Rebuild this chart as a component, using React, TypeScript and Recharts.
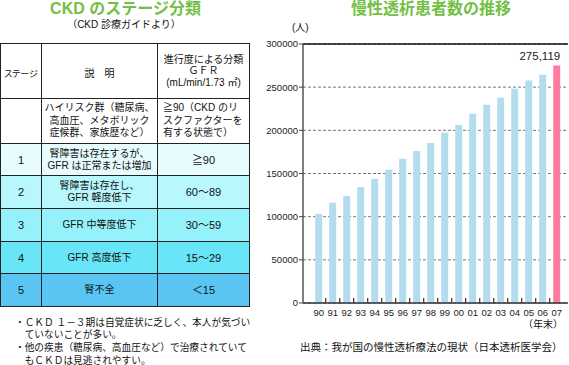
import React from "react";
import {
  BarChart,
  Bar,
  XAxis,
  YAxis,
  CartesianGrid,
  ReferenceLine,
  LabelList,
  Cell,
} from "recharts";

const FONT = '"Liberation Sans", "Noto Sans CJK JP", sans-serif';
const GREEN = "#72BF44";

// dialysis patients, year end
const years = ["90", "91", "92", "93", "94", "95", "96", "97", "98", "99", "00", "01", "02", "03", "04", "05", "06", "07"];
const patients = [
  103296, 116303, 123926, 134298, 143709, 154413, 167192, 175988, 185322,
  197213, 206134, 219183, 229538, 237710, 248166, 257765, 264473, 275119,
];
const yTicks = [0, 50000, 100000, 150000, 200000, 250000, 300000];

// CKD stage table
const stages = ["", "1", "2", "3", "4", "5"];
const stageDescriptions = [
  ["ハイリスク群（糖尿病、", "高血圧、メタボリック", "症候群、家族歴など）"],
  ["腎障害は存在するが、", "GFR は正常または増加"],
  ["腎障害は存在し、", "GFR 軽度低下"],
  ["GFR 中等度低下"],
  ["GFR 高度低下"],
  ["腎不全"],
];
const gfrRanges = [
  ["≧90（CKD のリ", "スクファクターを", "有する状態で）"],
  ["≧90"],
  ["60～89"],
  ["30～59"],
  ["15～29"],
  ["＜15"],
];
const notes = [
  ["・ＣＫＤ １－３期は自覚症状に乏しく、本人が気づい", "ていないことが多い。"],
  ["・他の疾患（糖尿病、高血圧など）で治療されていて", "もＣＫＤは見逃されやすい。"],
];

const rowColors = ["#FFFFFF", "#E6FCFE", "#B8F7FC", "#95F1FA", "#68E5F6", "#5AC5F3"];
const rowHeights = [45, 32, 33, 33, 32, 33];

const chartData = years.map((year, i) => ({ year, patients: patients[i] }));

const cell: React.CSSProperties = {
  border: "1px solid #222",
  padding: 0,
  fontSize: 10,
  lineHeight: "12px",
  color: "#111",
  verticalAlign: "middle",
};

function Lines({ lines }: { lines: string[] }) {
  return (
    <>
      {lines.map((l, i) => (
        <div key={i} style={{ whiteSpace: "nowrap" }}>
          {l}
        </div>
      ))}
    </>
  );
}

function StageTable() {
  return (
    <table
      style={{
        position: "absolute",
        left: 0,
        top: 43,
        width: 249,
        borderCollapse: "collapse",
        tableLayout: "fixed",
        fontFamily: FONT,
      }}
    >
      <colgroup>
        <col style={{ width: 41 }} />
        <col style={{ width: 116 }} />
        <col style={{ width: 92 }} />
      </colgroup>
      <tbody>
        <tr style={{ height: 55 }}>
          <td style={{ ...cell, textAlign: "center", fontSize: 9, fontFeatureSettings: '"palt"', paddingTop: 5 }}>
            ステージ
          </td>
          <td style={{ ...cell, textAlign: "center", paddingTop: 5 }}>説　明</td>
          <td style={{ ...cell, textAlign: "center", lineHeight: "11.5px" }}>
            <Lines lines={["進行度による分類", "ＧＦＲ", "(mL/min/1.73 ㎡)"]} />
          </td>
        </tr>
        {stages.map((s, i) => (
          <tr key={i} style={{ height: rowHeights[i], background: rowColors[i] }}>
            <td style={{ ...cell, textAlign: "center", fontSize: 11 }}>{s}</td>
            <td style={{ ...cell, textAlign: "center", lineHeight: i === 0 ? "12.5px" : "12px" }}>
              <Lines lines={stageDescriptions[i]} />
            </td>
            <td
              style={{
                ...cell,
                textAlign: i === 0 ? "left" : "center",
                paddingLeft: i === 0 ? 5 : 0,
                fontSize: i === 0 ? 10 : 11,
                lineHeight: i === 0 ? "12.5px" : "12px",
              }}
            >
              <Lines lines={gfrRanges[i]} />
            </td>
          </tr>
        ))}
      </tbody>
    </table>
  );
}

function YearTick(props: any) {
  const { x, y, payload, index } = props;
  const half = payload.offset ?? 0;
  const isLast = index === years.length - 1;
  return (
    <g>
      {!isLast && (
        <line x1={x + half} x2={x + half} y1={y} y2={y - 5} stroke="#333" strokeWidth={1.2} />
      )}
      <text x={x} y={y + 6} dy="0.71em" textAnchor="middle" fontSize={9.5} fill="#222" fontFamily={FONT}>
        {payload.value}
      </text>
    </g>
  );
}

function LatestLabel(props: any) {
  const { x, y, width, value, index } = props;
  if (index !== patients.length - 1) return null;
  return (
    <text
      x={Number(x) + Number(width)}
      y={Number(y) - 5}
      textAnchor="end"
      fontSize={11.5}
      fill="#222"
      fontFamily={FONT}
    >
      {Number(value).toLocaleString("en-US")}
    </text>
  );
}

export default function App() {
  return (
    <div
      style={{
        position: "absolute",
        left: 0,
        top: 0,
        width: 569,
        height: 365,
        background: "#fff",
        fontFamily: FONT,
        overflow: "hidden",
      }}
    >
      {/* left panel */}
      <div
        style={{
          position: "absolute",
          left: 0,
          width: 251,
          top: 0,
          textAlign: "center",
          color: GREEN,
          fontSize: 16,
          fontWeight: "bold",
          lineHeight: "18px",
        }}
      >
        CKD のステージ分類
      </div>
      <div
        style={{
          position: "absolute",
          left: 0,
          width: 248,
          top: 19,
          textAlign: "center",
          fontSize: 10,
          lineHeight: "11px",
          color: "#111",
        }}
      >
        （CKD 診療ガイドより）
      </div>
      <StageTable />
      <div
        style={{
          position: "absolute",
          left: 15,
          top: 316.5,
          fontSize: 9.7,
          lineHeight: "12.7px",
          color: "#111",
        }}
      >
        {notes.map((n, i) => (
          <React.Fragment key={i}>
            <div style={{ whiteSpace: "nowrap" }}>{n[0]}</div>
            <div style={{ whiteSpace: "nowrap", paddingLeft: "1em" }}>{n[1]}</div>
          </React.Fragment>
        ))}
      </div>

      {/* right panel */}
      <div
        style={{
          position: "absolute",
          left: 331,
          width: 200,
          top: 0,
          textAlign: "center",
          color: GREEN,
          fontSize: 16,
          fontWeight: "bold",
          lineHeight: "18px",
        }}
      >
        慢性透析患者数の推移
      </div>
      <div style={{ position: "absolute", left: 292, top: 22, fontSize: 10, lineHeight: "11px", color: "#111" }}>
        (人)
      </div>
      <div style={{ position: "absolute", left: 250, top: 0 }}>
        <BarChart
          width={319}
          height={365}
          data={chartData}
          margin={{ top: 44, right: 1, bottom: 32, left: 0 }}
          barCategoryGap="25%"
        >
          <CartesianGrid vertical={false} stroke="#777" strokeDasharray="3 2" />
          <XAxis
            dataKey="year"
            height={30}
            padding={{ left: 8.7, right: 4.3 }}
            tickLine={false}
            tickSize={0}
            tickMargin={0}
            interval={0}
            axisLine={{ stroke: "#333", strokeWidth: 1.5 }}
            tick={<YearTick />}
          />
          <YAxis
            width={53}
            domain={[0, 300000]}
            ticks={yTicks}
            interval={0}
            tickSize={4}
            tickMargin={1}
            tickLine={{ stroke: "#444" }}
            axisLine={{ stroke: "#555", strokeWidth: 1.5 }}
            tick={{ fontSize: 9.5, fill: "#222", fontFamily: FONT }}
          />
          <ReferenceLine y={300000} stroke="#111" strokeWidth={1.5} />
          <Bar dataKey="patients" isAnimationActive={false}>
            {chartData.map((d, i) => (
              <Cell key={d.year} fill={i === chartData.length - 1 ? "#FF7BA0" : "#B4DCEF"} />
            ))}
            <LabelList dataKey="patients" content={<LatestLabel />} />
          </Bar>
        </BarChart>
      </div>
      <div style={{ position: "absolute", right: 6, top: 319, fontSize: 10, lineHeight: "11px", color: "#111" }}>
        （年末）
      </div>
      <div
        style={{
          position: "absolute",
          left: 300,
          top: 341,
          fontSize: 10.5,
          lineHeight: "12px",
          color: "#111",
          whiteSpace: "nowrap",
        }}
      >
        出典：我が国の慢性透析療法の現状（日本透析医学会）
      </div>
    </div>
  );
}
